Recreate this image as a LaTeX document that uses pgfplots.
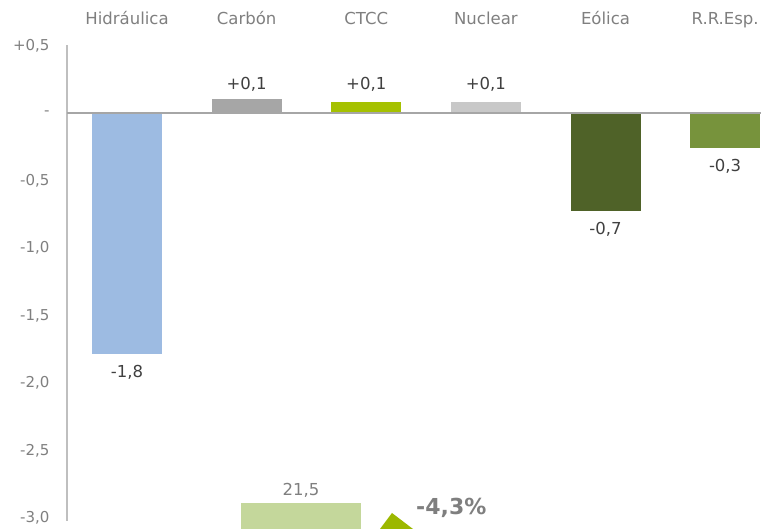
\documentclass[border=0pt]{standalone}
\usepackage{fontspec}
\setmainfont{DejaVu Sans}
\usepackage{pgfplots}
\pgfplotsset{compat=1.18}
\definecolor{hidro}{HTML}{9DBBE2}
\definecolor{carbon}{HTML}{A6A6A6}
\definecolor{ctcc}{HTML}{A5C100}
\definecolor{nuclear}{HTML}{C8C8C8}
\definecolor{eolica}{HTML}{4F6228}
\definecolor{rresp}{HTML}{77933C}
\definecolor{lgreen}{HTML}{C4D79B}
\definecolor{arrowgreen}{HTML}{9CB800}
\definecolor{labgrey}{HTML}{7F7F7F}
\definecolor{valgrey}{HTML}{404040}
\definecolor{linegrey}{HTML}{BFBFBF}
\begin{document}
\begin{tikzpicture}
\useasboundingbox (0,0) rectangle (761pt,529pt);
\clip (0,0) rectangle (761pt,529pt);
\begin{axis}[
  at={(67pt,8.3pt)}, anchor=south west,
  scale only axis, width=694pt, height=475.2pt,
  xmin=-0.502, xmax=5.3, ymin=-3.02, ymax=0.5,
  ybar, bar width=70pt, bar shift=0pt,
  axis y line*=left, axis x line*=top,
  x axis line style={draw=none},
  y axis line style={draw=linegrey, line width=1.2pt, -},
  major tick length=0pt, tick style={draw=none},
  xtick={0,...,5},
  xticklabels={Hidráulica,Carbón,CTCC,Nuclear,Eólica,R.R.Esp.},
  xticklabel style={font=\fontsize{16.5pt}{19pt}\selectfont, text=labgrey,
    text height=12pt, text depth=3.5pt, yshift=14pt},
  ytick={-3,-2.5,-2,-1.5,-1,-0.5,0,0.5},
  yticklabels={{-3,0},{-2,5},{-2,0},{-1,5},{-1,0},{-0,5},{-},{+0,5}},
  yticklabel style={font=\fontsize{15pt}{18pt}\selectfont, text=labgrey, xshift=-14pt},
  nodes near coords, point meta=explicit symbolic,
  every node near coord/.append style={font=\fontsize{16.5pt}{19pt}\selectfont,
    text=valgrey, text height=11.5pt, text depth=3pt, inner ysep=6pt},
  neg/.style={every node near coord/.append style={anchor=north, inner ysep=12pt}},
  low/.style={every node near coord/.append style={inner ysep=9pt}},
]
\addplot[fill=hidro, draw=none, neg] coordinates {(0,-1.785) [{-1,8}]};
\addplot[fill=carbon, draw=none] coordinates {(1,0.104) [{+0,1}]};
\addplot[fill=ctcc, draw=none, low] coordinates {(2,0.08) [{+0,1}]};
\addplot[fill=nuclear, draw=none, low] coordinates {(3,0.08) [{+0,1}]};
\addplot[fill=eolica, draw=none, neg] coordinates {(4,-0.726) [{-0,7}]};
\addplot[fill=rresp, draw=none, neg] coordinates {(5,-0.26) [{-0,3}]};
\draw[color=carbon, line width=1.2pt] (axis cs:-0.502,0) -- (axis cs:5.3,0);
\end{axis}
\begin{axis}[
  at={(241pt,0pt)}, anchor=south west,
  scale only axis, width=120pt, height=26pt,
  xmin=-0.5, xmax=0.5, ymin=20, ymax=21.5,
  hide axis, clip=false,
  ybar, bar width=120pt, bar shift=0pt,
  nodes near coords, point meta=explicit symbolic,
  every node near coord/.append style={font=\fontsize{16.5pt}{19pt}\selectfont,
    text=labgrey, text height=11.5pt, text depth=3pt, inner ysep=4pt},
]
\addplot[fill=lgreen, draw=none] coordinates {(0,21.5) [{21,5}]};
\end{axis}
\fill[arrowgreen] (380pt,0pt) -- (392pt,16pt) -- (413pt,0pt) -- cycle;
\node[font=\bfseries\fontsize{22pt}{26pt}\selectfont, text=labgrey, anchor=west, inner sep=0pt]
  at (416pt,21pt) {-4,3\%};
\end{tikzpicture}
\end{document}
